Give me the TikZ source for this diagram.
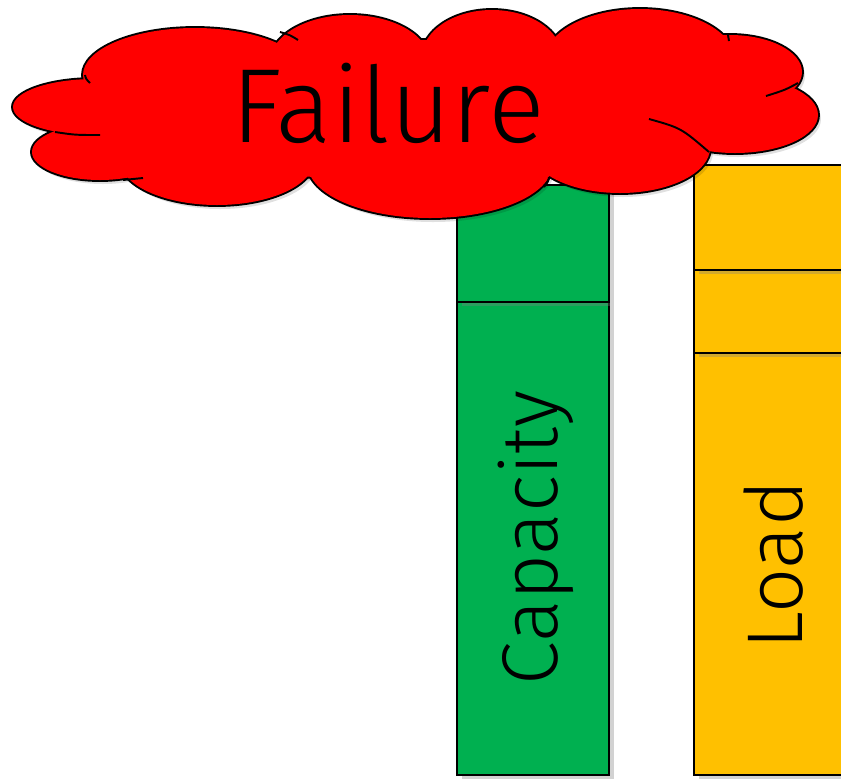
\documentclass[tikz,border=0pt]{standalone}
\usepackage{fontspec}
\setmainfont{Fira Sans Light}
\usetikzlibrary{shadows}
\definecolor{capgreen}{RGB}{0,176,80}
\definecolor{loadyellow}{RGB}{255,192,0}

% puffs of the cloud: centre x/centre y/x radius/y radius
\newcommand{\puffs}{95/107/82/28, 100/152/68/28, 195/75/112/47, 350/62/80/47,
	492/57/70/47, 640/60/95/51, 730/72/72/37, 735/115/83/38,
	620/148/90/45, 430/165/122/53, 217/160/97/45, 410/110/330/70}

\begin{document}
\begin{tikzpicture}[x=0.02cm, y=-0.02cm, line width=1.1pt,
	block/.style={draw=black, drop shadow={opacity=0.35, shadow xshift=3pt, shadow yshift=-2pt}},
	label/.style={font=\fontsize{45}{50}\selectfont, rotate=90}]
	\clip (0,0) rectangle (841,778);
	\fill[white] (0,0) rectangle (841,778);
	% load column
	\draw[block, fill=loadyellow] (694,353) rectangle (880,775);
	\draw[block, fill=loadyellow] (694,270) rectangle (880,353);
	\draw[block, fill=loadyellow] (694,165) rectangle (880,270);
	% capacity column
	\draw[block, fill=capgreen] (457,302) rectangle (609,775);
	\draw[block, fill=capgreen] (457,185) rectangle (609,302);
	\node[label] (capacity) at (536,538) {Capacity};
	\node[label] (load) at (774,565) {Load};
	% failure cloud: shadow, outline, fill, then the inner strokes
	\foreach \cx/\cy/\rx/\ry in \puffs
		\fill[black, opacity=0.12] (\cx+3,\cy+4) ellipse [x radius=\rx, y radius=\ry];
	\foreach \cx/\cy/\rx/\ry in \puffs
		\draw[line width=2.2pt] (\cx,\cy) ellipse [x radius=\rx, y radius=\ry];
	\foreach \cx/\cy/\rx/\ry in \puffs
		\fill[red] (\cx,\cy) ellipse [x radius=\rx, y radius=\ry];
	\draw (85,75) .. controls (86,79) .. (90,83);
	\draw (55,132) .. controls (75,135) .. (100,135);
	\draw (123,180) .. controls (133,179) .. (143,178);
	\draw (280,32) .. controls (290,35) .. (298,40);
	\draw (728,35) .. controls (729,38) .. (729,41);
	\draw (766,96) .. controls (785,90) .. (798,83);
	\draw (649,119) .. controls (681,128) .. (709,152);
	\draw (549,177) .. controls (548,182) .. (544,187);
	\node[font=\fontsize{60}{66}\selectfont] (failure) at (388,103) {Failure};
\end{tikzpicture}
\end{document}
